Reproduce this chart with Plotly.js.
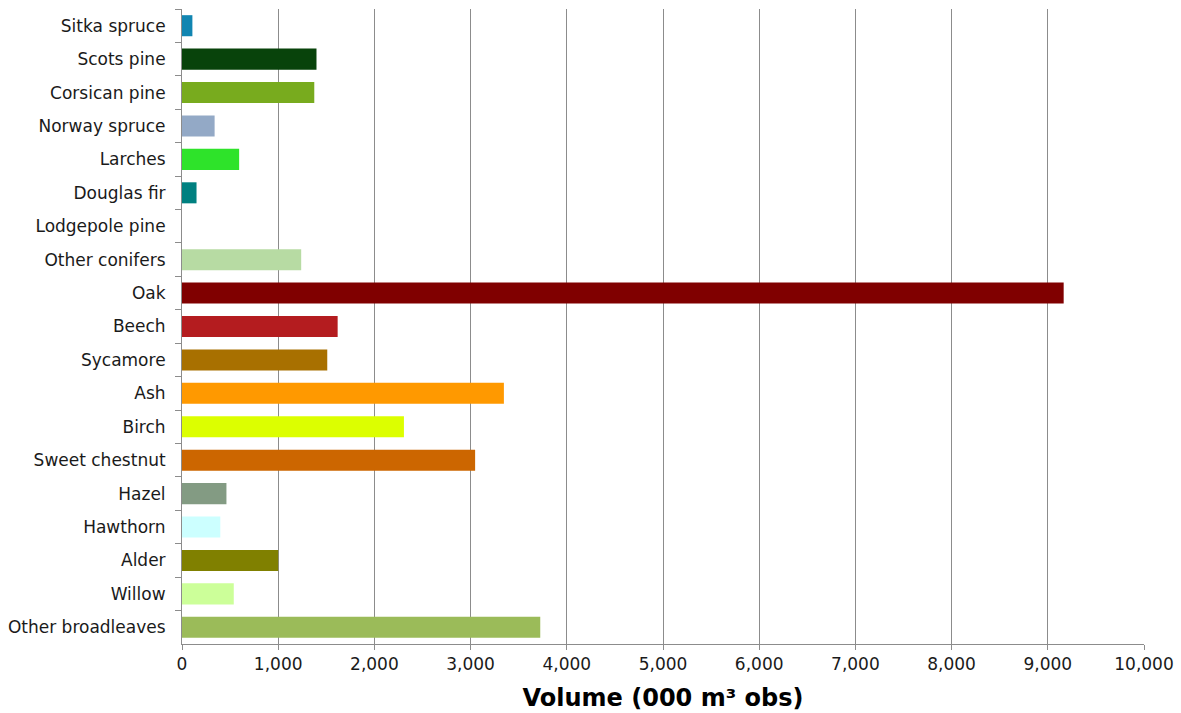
<!DOCTYPE html>
<html>
<head>
<meta charset="utf-8">
<script src="https://cdn.plot.ly/plotly-3.0.1.min.js"></script>
<style>
  html, body { margin: 0; padding: 0; background: #ffffff; }
  #chart { width: 1181px; height: 713px; }
</style>
</head>
<body>
<div id="chart"></div>
<script>
// Tree species, listed top to bottom
const species = [
  "Sitka spruce", "Scots pine", "Corsican pine", "Norway spruce", "Larches",
  "Douglas fir", "Lodgepole pine", "Other conifers", "Oak", "Beech",
  "Sycamore", "Ash", "Birch", "Sweet chestnut", "Hazel",
  "Hawthorn", "Alder", "Willow", "Other broadleaves"
];

// Standing volume, thousand cubic metres overbark standing
const volume = [
  108, 1398, 1375, 339, 594,
  151, 0, 1239, 9165, 1618,
  1510, 3346, 2307, 3047, 462,
  398, 1000, 538, 3724
];

const barColours = [
  "#1185b1", "#08430b", "#78ab1e", "#93a9c6", "#2ee32a",
  "#008080", "#b0c4de", "#b7dba3", "#800000", "#b41c1f",
  "#a87000", "#ff9900", "#dcff00", "#cc6600", "#839b83",
  "#ccffff", "#808000", "#ccff99", "#9bbb59"
];

const xTickVals = [0, 1000, 2000, 3000, 4000, 5000, 6000, 7000, 8000, 9000, 10000];

const fontFamily = "DejaVu Sans, Verdana, sans-serif";

Plotly.newPlot("chart", [{
  type: "bar",
  orientation: "h",
  y: species,
  x: volume,
  marker: { color: barColours, line: { width: 0 } },
  hoverinfo: "y+x"
}], {
  width: 1181,
  height: 713,
  margin: { l: 182, r: 37, t: 9, b: 69, pad: 0 },
  paper_bgcolor: "#ffffff",
  plot_bgcolor: "#ffffff",
  bargap: 0.37,
  showlegend: false,
  font: { family: fontFamily, size: 17, color: "#1a1a1a" },
  xaxis: {
    range: [0, 10000],
    tickvals: xTickVals,
    tickformat: ",d",
    showgrid: true,
    gridcolor: "#8c8c8c",
    gridwidth: 1,
    zeroline: false,
    showline: true,
    linecolor: "#8c8c8c",
    linewidth: 1,
    ticks: "outside",
    ticklen: 5,
    tickcolor: "#8c8c8c",
    tickfont: { family: fontFamily, size: 17, color: "#1a1a1a" },
    title: {
      text: "Volume (000 m³ obs)",
      font: { family: fontFamily, size: 24, color: "#000000", weight: "bold" },
      standoff: 15
    },
    fixedrange: true
  },
  yaxis: {
    type: "category",
    autorange: "reversed",
    showgrid: false,
    zeroline: false,
    showline: true,
    linecolor: "#8c8c8c",
    linewidth: 1,
    ticks: "outside",
    tickson: "boundaries",
    ticklen: 6,
    tickcolor: "#8c8c8c",
    ticklabelstandoff: 12,
    tickfont: { family: fontFamily, size: 17, color: "#1a1a1a" },
    fixedrange: true
  }
}, { displayModeBar: false, staticPlot: true });
</script>
</body>
</html>
